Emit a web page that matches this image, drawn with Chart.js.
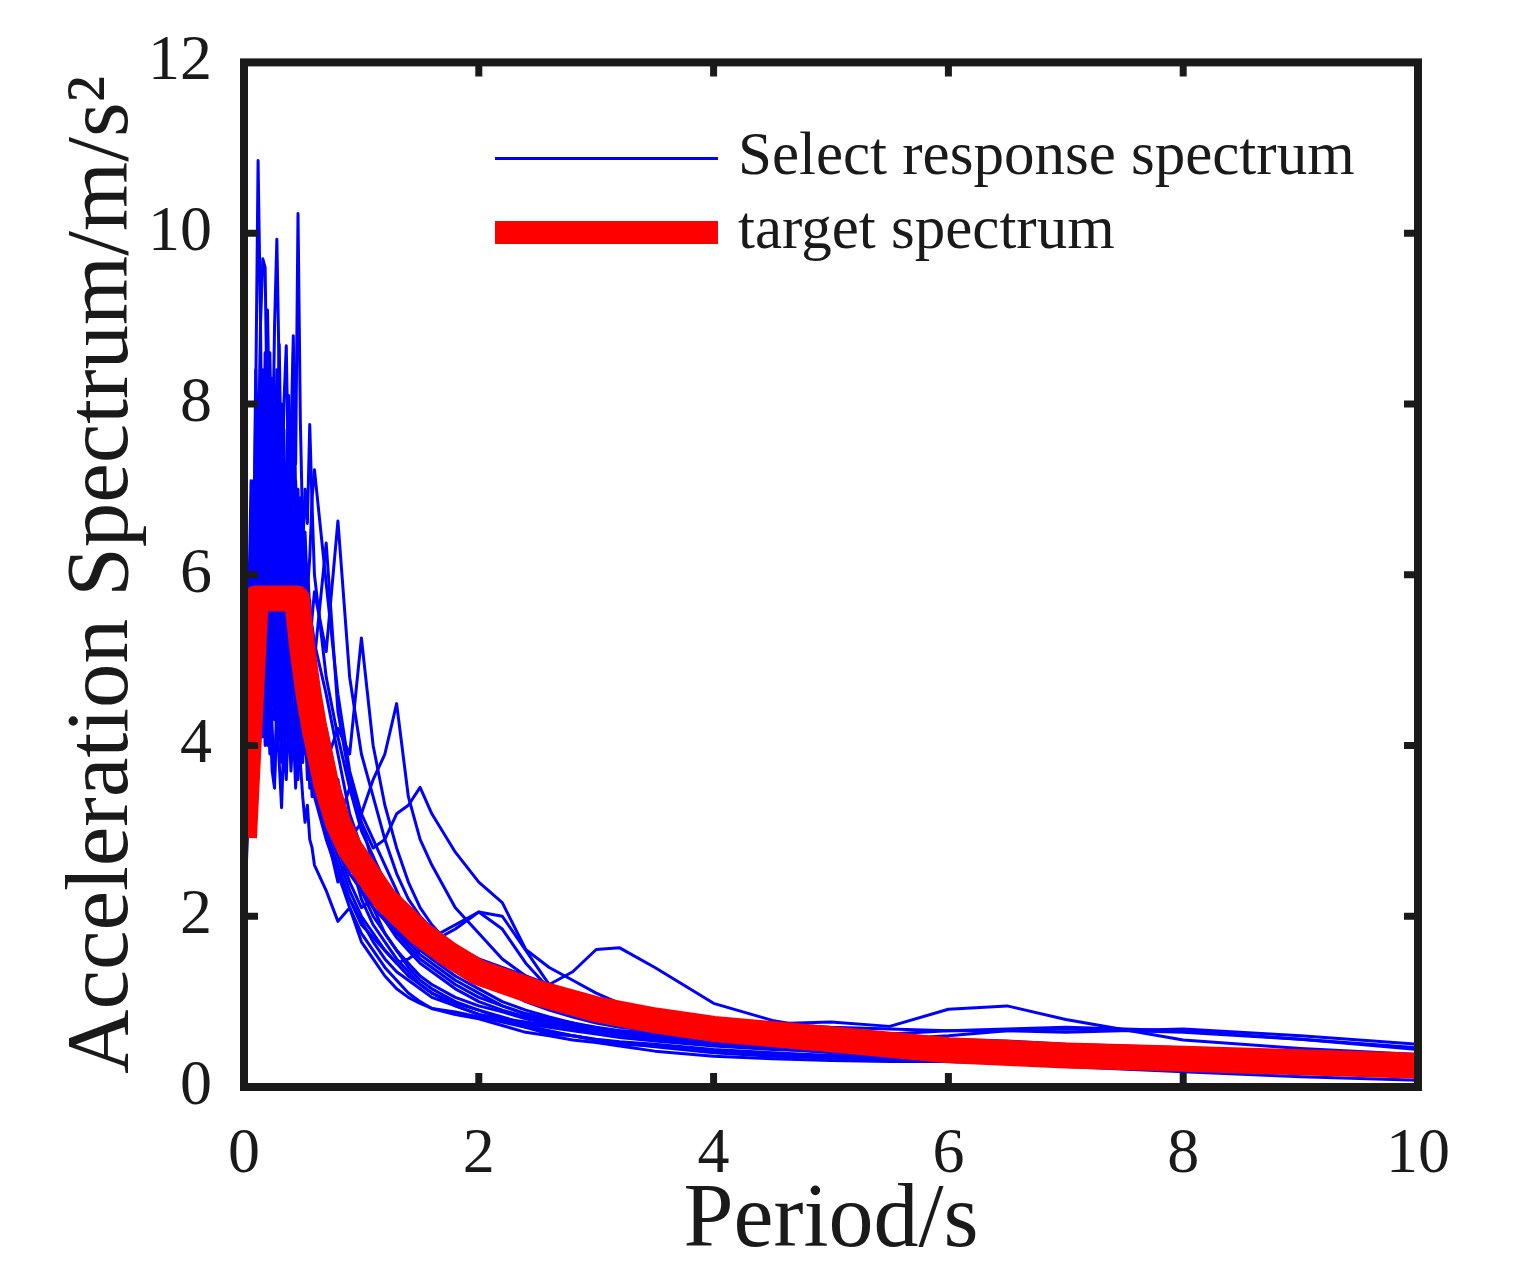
<!DOCTYPE html>
<html>
<head>
<meta charset="utf-8">
<title>Acceleration spectrum</title>
<script src="https://cdn.jsdelivr.net/npm/chart.js@4.4.1/dist/chart.umd.min.js"></script>
<style>
  html, body { margin: 0; padding: 0; background: #fff; }
  #spectrumCanvas { display: block; }
</style>
</head>
<body>
<canvas id="spectrumCanvas" width="1529" height="1288"></canvas>
<script>
// periods (s) shared by all the selected records: 0.02 s steps up to 0.6 s, coarser after
const periods = [0, 0.02, 0.04, 0.06, 0.08, 0.1, 0.12, 0.14, 0.16, 0.18, 0.2, 0.22, 0.24, 0.26, 0.28, 0.3,
    0.32, 0.34, 0.36, 0.38, 0.4, 0.42, 0.44, 0.46, 0.48, 0.5, 0.52, 0.54, 0.56, 0.58, 0.6,
    0.7, 0.8, 0.9, 1.0, 1.1, 1.2, 1.3, 1.4, 1.5, 1.6,
    1.8, 2.0, 2.2, 2.4, 2.6, 2.8, 3.0, 3.2, 3.5,
    4.0, 4.5, 5.0, 5.5, 6.0, 6.5, 7.0, 8.0, 9.0, 10.0];

// selected records, spectral acceleration (m/s2)
const rec01 = [2.6, 3.4, 4.6, 6.2, 5.4, 8.1, 10.85, 9.0, 6.4, 8.6, 5.9, 7.8, 5.2, 6.9, 4.6, 6.1,
    4.9, 6.6, 4.4, 5.7, 4.1, 5.3, 4.5, 4.9, 3.8, 4.6, 3.9, 4.3, 3.5, 4.0, 3.6,
    3.0, 2.4, 2.7, 2.2, 1.9, 1.7, 1.5, 1.35, 1.2, 1.1,
    0.95, 0.85, 0.78, 0.7, 0.62, 0.6, 0.55, 0.5, 0.48,
    0.42, 0.38, 0.34, 0.32, 0.3, 0.28, 0.26, 0.22, 0.18, 0.12];
const rec02 = [2.9, 3.6, 4.4, 5.3, 6.8, 5.6, 7.4, 6.0, 7.9, 5.3, 6.7, 8.3, 5.8, 7.1, 8.4, 6.2,
    7.6, 5.4, 7.0, 8.1, 6.3, 8.6, 7.3, 10.23, 7.8, 6.5, 5.2, 6.1, 5.6, 4.9, 4.7,
    4.1, 3.4, 2.9, 2.6, 2.3, 2.1, 1.85, 1.7, 1.55, 1.45,
    1.25, 1.1, 0.95, 0.85, 0.78, 0.72, 0.68, 0.64, 0.6,
    0.55, 0.5, 0.47, 0.45, 0.43, 0.41, 0.38, 0.34, 0.3, 0.26];
const rec03 = [3.1, 3.9, 5.0, 4.4, 6.3, 7.5, 5.8, 8.2, 6.6, 7.8, 5.7, 8.6, 7.0, 8.9, 9.93, 8.3,
    6.4, 7.7, 5.5, 6.8, 5.1, 6.2, 4.8, 5.9, 4.5, 5.4, 4.2, 4.9, 3.8, 4.4, 3.4,
    2.9, 2.5, 2.2, 1.9, 1.75, 1.6, 1.45, 1.3, 1.2, 1.1,
    0.98, 0.9, 0.8, 0.72, 0.66, 0.6, 0.55, 0.52, 0.47,
    0.4, 0.36, 0.34, 0.33, 0.32, 0.31, 0.29, 0.25, 0.2, 0.15];
const rec04 = [3.5, 4.3, 5.6, 7.1, 6.0, 8.4, 7.2, 8.9, 9.7, 9.6, 7.6, 8.3, 6.1, 7.4, 5.6, 6.8,
    4.9, 6.3, 5.5, 4.6, 6.0, 5.1, 4.4, 5.6, 4.8, 4.2, 5.1, 4.5, 4.0, 4.6, 4.0,
    3.3, 3.6, 2.8, 2.4, 2.1, 1.8, 1.6, 1.4, 1.25, 1.15,
    1.0, 0.9, 0.82, 0.74, 0.7, 0.66, 0.62, 0.58, 0.54,
    0.48, 0.44, 0.42, 0.4, 0.38, 0.36, 0.34, 0.3, 0.27, 0.22];
const rec05 = [2.5, 3.1, 3.9, 4.8, 4.2, 5.9, 5.0, 6.6, 5.4, 7.2, 6.1, 4.9, 6.8, 5.6, 7.4, 6.3,
    7.9, 5.8, 7.1, 6.4, 7.6, 8.8, 6.9, 5.7, 6.6, 5.3, 4.7, 5.5, 4.9, 5.4, 5.2,
    4.6, 3.9, 3.2, 2.8, 2.5, 2.2, 1.9, 1.75, 1.6, 1.5,
    1.4, 1.3, 1.15, 1.0, 0.9, 0.82, 0.75, 0.7, 0.66,
    0.62, 0.6, 0.58, 0.56, 0.6, 0.66, 0.68, 0.64, 0.56, 0.46];
const rec06 = [3.0, 3.5, 4.2, 5.5, 4.8, 6.6, 7.4, 5.9, 7.8, 6.5, 8.2, 6.9, 5.3, 7.2, 6.0, 7.7,
    6.4, 8.0, 8.68, 7.1, 6.2, 5.4, 6.6, 5.8, 5.0, 6.2, 5.3, 4.6, 4.9, 4.3, 3.9,
    3.5, 2.9, 2.5, 2.3, 2.1, 1.95, 1.8, 1.65, 1.5, 1.4,
    1.2, 1.05, 0.95, 0.86, 0.8, 0.75, 0.7, 0.66, 0.62,
    0.58, 0.54, 0.52, 0.5, 0.48, 0.46, 0.44, 0.4, 0.35, 0.3];
const rec07 = [2.2, 2.8, 3.6, 4.5, 5.6, 4.9, 6.4, 5.5, 6.9, 5.2, 6.1, 4.7, 5.8, 6.5, 5.3, 6.7,
    5.9, 7.1, 6.0, 6.8, 7.3, 6.2, 5.6, 6.6, 6.9, 6.3, 7.0, 6.6, 7.76, 6.8, 6.0,
    4.8, 4.1, 3.5, 3.0, 2.7, 2.4, 2.1, 1.9, 1.75, 1.6,
    1.4, 1.25, 1.15, 1.05, 0.96, 0.88, 0.82, 0.76, 0.72,
    0.66, 0.62, 0.6, 0.62, 0.66, 0.68, 0.7, 0.66, 0.56, 0.44];
const rec08 = [2.8, 3.3, 4.1, 5.2, 6.3, 5.4, 7.0, 6.1, 4.9, 5.8, 6.6, 5.6, 4.6, 5.5, 6.2, 5.1,
    6.4, 5.7, 4.8, 6.1, 5.6, 6.7, 5.9, 6.3, 5.5, 6.0, 6.5, 5.8, 6.2, 6.9, 7.23,
    5.9, 4.6, 3.7, 3.2, 2.9, 2.6, 2.3, 2.0, 1.8, 1.65,
    1.45, 1.3, 1.2, 1.1, 1.0, 0.9, 0.84, 0.78, 0.72,
    0.66, 0.6, 0.56, 0.52, 0.5, 0.48, 0.46, 0.42, 0.38, 0.34];
const rec09 = [2.4, 2.9, 3.7, 4.6, 5.4, 4.5, 6.0, 5.1, 4.2, 5.6, 4.6, 3.9, 5.1, 4.3, 5.5, 4.4,
    3.8, 4.9, 4.1, 5.4, 4.6, 5.0, 4.3, 5.7, 4.9, 5.3, 4.6, 5.6, 5.1, 5.5, 5.8,
    5.1, 6.63, 4.8, 3.9, 3.4, 2.9, 2.5, 2.2, 2.0, 1.85,
    1.65, 1.5, 1.4, 1.3, 1.2, 1.1, 1.0, 0.95, 0.88,
    0.8, 0.74, 0.7, 0.68, 0.66, 0.66, 0.64, 0.68, 0.6, 0.5];
const rec10 = [2.3, 3.0, 3.9, 4.8, 5.6, 4.7, 5.9, 5.0, 5.7, 4.5, 5.3, 6.1, 4.9, 5.6, 4.2, 5.1,
    4.6, 3.7, 4.5, 5.2, 4.4, 5.9, 5.3, 4.6, 5.5, 4.8, 5.4, 4.7, 5.1, 4.5, 5.0,
    6.37, 4.4, 3.6, 3.1, 2.6, 2.3, 2.0, 1.8, 1.65, 1.5,
    1.3, 1.15, 1.0, 0.9, 0.82, 0.75, 0.68, 0.62, 0.56,
    0.5, 0.45, 0.4, 0.37, 0.34, 0.32, 0.3, 0.26, 0.2, 0.14];
const rec11 = [2.7, 3.1, 3.8, 4.5, 5.3, 4.4, 5.6, 4.9, 4.1, 5.5, 4.8, 5.8, 4.6, 5.3, 4.0, 4.9,
    4.4, 5.1, 4.6, 5.4, 4.5, 4.0, 4.7, 4.2, 4.9, 4.3, 4.6, 4.0, 4.4, 3.9, 4.3,
    3.8, 4.2, 3.9, 5.26, 4.0, 3.3, 2.8, 2.4, 2.1, 1.9,
    1.6, 1.4, 1.25, 1.1, 1.0, 0.92, 0.85, 0.8, 0.72,
    0.62, 0.56, 0.52, 0.5, 0.48, 0.46, 0.45, 0.42, 0.38, 0.32];
const rec12 = [2.5, 2.9, 3.6, 4.3, 5.0, 5.7, 4.8, 6.2, 5.3, 6.5, 5.6, 4.7, 5.9, 5.1, 4.6, 5.4,
    6.0, 5.2, 4.5, 5.3, 4.4, 3.9, 4.8, 4.2, 4.6, 3.8, 4.3, 3.6, 3.9, 3.4, 3.9,
    3.4, 3.1, 3.5, 3.2, 3.6, 3.9, 4.49, 3.4, 2.9, 2.6,
    2.1, 1.8, 1.5, 1.3, 1.15, 1.0, 0.9, 0.8, 0.72,
    0.6, 0.52, 0.48, 0.45, 0.42, 0.4, 0.38, 0.34, 0.3, 0.25];
const rec13 = [2.9, 3.4, 4.2, 5.4, 4.7, 6.5, 5.6, 7.2, 6.0, 7.5, 6.4, 5.5, 7.7, 6.6, 5.8, 7.0,
    6.1, 5.2, 6.3, 5.5, 6.0, 5.0, 5.6, 4.8, 5.2, 4.5, 4.9, 4.2, 4.7, 4.4, 4.1,
    3.6, 3.2, 2.9, 3.1, 2.8, 2.9, 3.2, 3.3, 3.51, 3.2,
    2.75, 2.4, 2.16, 1.61, 1.4, 1.25, 1.1, 0.98, 0.85,
    0.72, 0.62, 0.55, 0.5, 0.46, 0.44, 0.42, 0.38, 0.33, 0.28];
const rec14 = [2.6, 3.1, 3.9, 4.7, 5.6, 4.8, 6.3, 5.4, 6.6, 5.7, 7.0, 6.0, 5.2, 6.2, 5.4, 4.7,
    5.8, 6.5, 5.5, 6.1, 5.1, 4.6, 5.5, 4.9, 4.3, 4.8, 4.2, 4.5, 3.9, 4.2, 3.7,
    3.1, 2.7, 2.3, 2.0, 1.8, 1.6, 1.45, 1.5, 1.6, 1.7,
    1.85, 2.05, 2.0, 1.6, 1.2, 1.35, 1.61, 1.63, 1.4,
    0.98, 0.78, 0.66, 0.6, 0.56, 0.54, 0.5, 0.46, 0.4, 0.34];
const rec15 = [2.1, 2.6, 3.3, 4.1, 4.9, 4.2, 5.7, 4.6, 5.3, 4.0, 5.0, 4.4, 3.7, 3.5, 4.6, 5.4,
    4.3, 3.9, 4.9, 4.1, 4.8, 4.0, 4.4, 3.6, 4.2, 3.9, 4.5, 3.8, 4.1, 3.7, 3.5,
    3.0, 2.6, 2.2, 1.95, 1.7, 1.5, 1.35, 1.25, 1.15, 1.05,
    0.95, 0.85, 0.8, 0.76, 0.72, 0.7, 0.68, 0.66, 0.64,
    0.7, 0.74, 0.76, 0.71, 0.91, 0.95, 0.79, 0.55, 0.45, 0.38];
const rec16 = [2.3, 2.8, 3.5, 4.4, 5.2, 4.5, 3.9, 4.7, 5.5, 4.6, 4.0, 4.9, 4.2, 3.6, 4.3, 3.8,
    3.27, 4.1, 3.6, 4.4, 3.7, 4.2, 3.5, 4.4, 3.8, 3.4, 3.1, 3.3, 2.9, 2.8, 2.6,
    2.3, 1.94, 2.1, 1.7, 1.5, 1.3, 1.15, 1.05, 0.98, 0.92,
    0.85, 0.8, 0.72, 0.64, 0.6, 0.55, 0.52, 0.48, 0.42,
    0.36, 0.33, 0.31, 0.3, 0.3, 0.28, 0.24, 0.18, 0.12, 0.08];
const rec17 = [3.3, 3.9, 4.8, 6.0, 7.1, 6.2, 7.8, 6.8, 8.4, 7.3, 9.1, 7.6, 6.5, 8.0, 7.1, 8.7,
    6.9, 5.8, 7.3, 6.0, 6.6, 5.4, 6.1, 5.0, 5.6, 4.8, 5.0, 4.4, 4.6, 4.0, 3.6,
    3.0, 2.5, 2.1, 1.8, 1.6, 1.4, 1.25, 1.1, 1.0, 0.92,
    0.88, 0.82, 0.76, 0.7, 0.65, 0.6, 0.56, 0.53, 0.5,
    0.44, 0.4, 0.37, 0.35, 0.34, 0.33, 0.31, 0.28, 0.24, 0.2];
const rec18 = [3.6, 4.3, 5.3, 6.4, 5.6, 7.2, 6.3, 7.6, 6.7, 7.9, 8.5, 7.2, 6.1, 7.0, 5.9, 6.5,
    5.3, 6.2, 5.7, 6.4, 5.1, 5.8, 4.5, 5.3, 4.9, 5.2, 4.6, 5.0, 4.6, 4.2, 3.8,
    3.3, 2.8, 2.4, 2.1, 2.2, 2.0, 1.8, 1.7, 1.65, 1.75,
    1.9, 2.05, 1.85, 1.45, 1.15, 0.95, 0.85, 0.78, 0.72,
    0.62, 0.56, 0.52, 0.5, 0.47, 0.45, 0.43, 0.4, 0.36, 0.3];
const rec19 = [3.2, 3.8, 4.6, 5.8, 6.9, 5.5, 7.6, 6.4, 8.1, 6.2, 7.4, 5.9, 8.3, 6.7, 7.5, 5.8,
    8.0, 6.5, 7.2, 5.9, 6.8, 7.6, 6.1, 7.0, 5.7, 6.3, 5.2, 5.8, 4.9, 5.1, 4.6,
    4.2, 3.5, 2.9, 2.5, 2.2, 1.95, 1.75, 1.6, 1.45, 1.35,
    1.15, 1.0, 0.9, 0.82, 0.76, 0.7, 0.66, 0.62, 0.58,
    0.52, 0.48, 0.45, 0.43, 0.42, 0.4, 0.38, 0.35, 0.31, 0.27];
const rec20 = [2.8, 3.3, 4.0, 5.0, 6.1, 7.3, 5.9, 8.0, 6.8, 7.7, 6.2, 8.2, 7.0, 5.9, 7.6, 6.4,
    5.5, 7.3, 6.6, 7.9, 6.9, 6.0, 7.1, 6.2, 6.8, 5.6, 6.2, 5.3, 5.7, 4.9, 4.5,
    3.9, 3.2, 2.6, 2.3, 2.0, 1.8, 1.6, 1.45, 1.3, 1.2,
    1.05, 0.95, 0.88, 0.8, 0.74, 0.68, 0.63, 0.6, 0.56,
    0.5, 0.46, 0.43, 0.41, 0.4, 0.38, 0.36, 0.32, 0.28, 0.23];

// target (code) spectrum
const targetPeriods = [0, 0.1, 0.45, 0.5, 0.55, 0.6, 0.7, 0.8, 0.9, 1.0, 1.2, 1.5, 1.75, 2.0,
    2.5, 3.0, 3.5, 4.0, 5.0, 6.0, 7.0, 8.0, 9.0, 10.0];
const targetSpectrum = [2.92, 5.72, 5.72, 5.1, 4.6, 4.2, 3.55, 3.1, 2.8, 2.6, 2.2, 1.8, 1.55, 1.34,
    1.1, 0.91, 0.78, 0.68, 0.56, 0.43, 0.37, 0.33, 0.29, 0.25];

const xTicks = [0, 2, 4, 6, 8, 10];
const yTicks = [0, 2, 4, 6, 8, 10, 12];

const serif = 'Liberation Serif, Times New Roman, serif';
const ink = '#1a1a1a';

const records = [rec01, rec02, rec03, rec04, rec05, rec06, rec07, rec08, rec09, rec10,
    rec11, rec12, rec13, rec14, rec15, rec16, rec17, rec18, rec19, rec20];

const datasets = records.map((rec, i) => ({
    label: i === 0 ? 'Select response spectrum' : '',
    data: periods.map((t, k) => ({ x: t, y: rec[k] })),
    borderColor: '#0000ff',
    borderWidth: 3,
    borderJoinStyle: 'round',
    pointRadius: 0,
    tension: 0,
    order: 2
}));

datasets.push({
    label: 'target spectrum',
    data: targetPeriods.map((t, k) => ({ x: t, y: targetSpectrum[k] })),
    borderColor: '#ff0000',
    borderWidth: 26,
    borderJoinStyle: 'round',
    borderCapStyle: 'butt',
    pointRadius: 0,
    tension: 0,
    order: 1
});

// box round the plot with inward ticks on all four sides
const framePlugin = {
    id: 'frame',
    afterDatasetsDraw(chart) {
        const { ctx, chartArea: a } = chart;
        const sx = chart.scales.x, sy = chart.scales.y;
        const len = 14;
        ctx.save();
        ctx.strokeStyle = ink;
        ctx.lineWidth = 7;
        ctx.beginPath();
        xTicks.forEach(v => {
            const px = sx.getPixelForValue(v);
            ctx.moveTo(px, a.bottom); ctx.lineTo(px, a.bottom - len);
            ctx.moveTo(px, a.top); ctx.lineTo(px, a.top + len);
        });
        yTicks.forEach(v => {
            const py = sy.getPixelForValue(v);
            ctx.moveTo(a.left, py); ctx.lineTo(a.left + len, py);
            ctx.moveTo(a.right, py); ctx.lineTo(a.right - len, py);
        });
        ctx.stroke();
        ctx.lineWidth = 8;
        ctx.strokeRect(a.left, a.top, a.right - a.left, a.bottom - a.top);
        ctx.restore();
    }
};

// legend drawn inside the plot, top right
const legendPlugin = {
    id: 'insideLegend',
    afterDraw(chart) {
        const { ctx, chartArea: a } = chart;
        const items = chart.data.datasets.filter(d => d.label);
        const x0 = a.left + 251, x1 = a.left + 474;
        let y = a.top + 96;
        ctx.save();
        ctx.font = '61px ' + serif;
        ctx.textBaseline = 'middle';
        ctx.fillStyle = ink;
        items.forEach(d => {
            ctx.strokeStyle = d.borderColor;
            ctx.lineWidth = d.borderWidth > 10 ? 23 : 3;
            ctx.lineCap = 'butt';
            ctx.beginPath();
            ctx.moveTo(x0, y); ctx.lineTo(x1, y);
            ctx.stroke();
            ctx.fillText(d.label, a.left + 494, y);
            y += 74;
        });
        ctx.restore();
    }
};

const spectrumConfig = {
    type: 'line',
    data: { datasets: datasets },
    options: {
        responsive: false,
        animation: false,
        devicePixelRatio: 1,
        layout: { padding: { top: 62, right: 111, left: 0, bottom: 0 } },
        scales: {
            x: {
                type: 'linear',
                min: 0,
                max: 10,
                afterBuildTicks: s => { s.ticks = xTicks.map(v => ({ value: v })); },
                afterFit: s => { s.height = 201; },
                grid: { display: false },
                border: { display: false },
                ticks: { padding: 22, color: ink, font: { family: serif, size: 64 } },
                title: {
                    display: true,
                    text: 'Period/s',
                    color: ink,
                    padding: { top: 0, bottom: 12 },
                    font: { family: serif, size: 90 }
                }
            },
            y: {
                type: 'linear',
                min: 0,
                max: 12,
                afterBuildTicks: s => { s.ticks = yTicks.map(v => ({ value: v })); },
                afterFit: s => { s.width = 244; },
                grid: { display: false },
                border: { display: false },
                ticks: { padding: 24, color: ink, font: { family: serif, size: 64 } },
                title: {
                    display: true,
                    text: 'Acceleration Spectrum/m/s²',
                    color: ink,
                    padding: { top: 50, bottom: 0 },
                    font: { family: serif, size: 89 }
                }
            }
        },
        plugins: {
            legend: { display: false },
            tooltip: { enabled: false }
        }
    },
    plugins: [framePlugin, legendPlugin]
};

const spectrumChart = new Chart(
    document.getElementById('spectrumCanvas').getContext('2d'),
    spectrumConfig
);
</script>
</body>
</html>
